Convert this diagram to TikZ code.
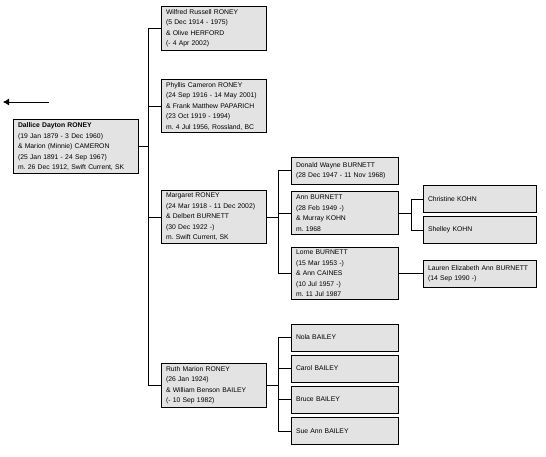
\documentclass[tikz,border=0pt]{standalone}
\usepackage{fontspec}
\setmainfont{Liberation Sans}
\usetikzlibrary{arrows.meta}
\colorlet{boxfill}{black!11}
\frenchspacing

\begin{document}
\begin{tikzpicture}[
            x=1pt,y=-1pt,
            every node/.append style={black},
            person/.style={draw,fill=boxfill,line width=0.8pt,align=left,
                font=\fontsize{6.8}{10.5}\selectfont,
                inner xsep=5pt,inner ysep=3pt,
                minimum height=27pt,text width=#1},
            person/.default=95pt,
            link/.style={line width=0.8pt}
        ]
            \useasboundingbox (0,0) rectangle (546,457);

            \node [person=115pt] (dallice) at (75.5,146.5)
                {\textbf{Dallice Dayton RONEY}\\(19 Jan 1879 - 3 Dec 1960)\\
                \& Marion (Minnie) CAMERON\\(25 Jan 1891 - 24 Sep 1967)\\
                m. 26 Dec 1912, Swift Current, SK};

            \node [person] (wilfred) at (213.5,28)
                {Wilfred Russell RONEY\\(5 Dec 1914 - 1975)\\
                \& Olive HERFORD\\(- 4 Apr 2002)};
            \node [person] (phyllis) at (213.5,106)
                {Phyllis Cameron RONEY\\(24 Sep 1916 - 14 May 2001)\\
                \& Frank Matthew PAPARICH\\(23 Oct 1919 - 1994)\\
                m. 4 Jul 1956, Rossland, BC};
            \node [person] (margaret) at (213.5,217)
                {Margaret RONEY\\(24 Mar 1918 - 11 Dec 2002)\\
                \& Delbert BURNETT\\(30 Dec 1922 -)\\
                m. Swift Current, SK};
            \node [person] (ruth) at (213.5,385)
                {Ruth Marion RONEY\\(26 Jan 1924)\\
                \& William Benson BAILEY\\(- 10 Sep 1982)};

            \node [person=97pt] (donald) at (344.5,170.5)
                {Donald Wayne BURNETT\\(28 Dec 1947 - 11 Nov 1968)};
            \node [person=97pt] (ann) at (344.5,213)
                {Ann BURNETT\\(28 Feb 1949 -)\\\& Murray KOHN\\m. 1968};
            \node [person=97pt] (lorne) at (344.5,273.5)
                {Lorne BURNETT\\(15 Mar 1953 -)\\\& Ann CAINES\\
                (10 Jul 1957 -)\\m. 11 Jul 1987};

            \node [person=97pt] (nola) at (344.5,337.5) {Nola BAILEY};
            \node [person=97pt] (carol) at (344.5,368.5) {Carol BAILEY};
            \node [person=97pt] (bruce) at (344.5,399.5) {Bruce BAILEY};
            \node [person=97pt] (sueann) at (344.5,431) {Sue Ann BAILEY};

            \node [person=103pt] (christine) at (479.5,199) {Christine KOHN};
            \node [person=103pt] (shelley) at (479.5,230) {Shelley KOHN};
            \node [person=103pt] (lauren) at (479.5,273.5)
                {Lauren Elizabeth Ann BURNETT\\(14 Sep 1990 -)};

            \coordinate (trunk) at (148,0);
            \coordinate (margaretbar) at (278,0);
            \coordinate (ruthbar) at (278,0);
            \coordinate (annbar) at (411,0);

            \foreach \child in {wilfred,phyllis,margaret,ruth}
                \draw [link] (dallice.east) -| (trunk |- \child.west) -- (\child.west);
            \foreach \child in {donald,ann,lorne}
                \draw [link] (margaret.east) -| (margaretbar |- \child.west) -- (\child.west);
            \foreach \child in {nola,carol,bruce,sueann}
                \draw [link] (ruth.east) -| (ruthbar |- \child.west) -- (\child.west);
            \foreach \child in {christine,shelley}
                \draw [link] (ann.east) -| (annbar |- \child.west) -- (\child.west);
            \draw [link] (lorne.east) -- (lauren.west);

            % back to the parents
            \coordinate (back) at (49,102);
            \coordinate (backtip) at (3,102);
            \draw [link,-{Latex[length=6pt,width=7pt]}] (back) -- (backtip);
        \end{tikzpicture}
\end{document}
